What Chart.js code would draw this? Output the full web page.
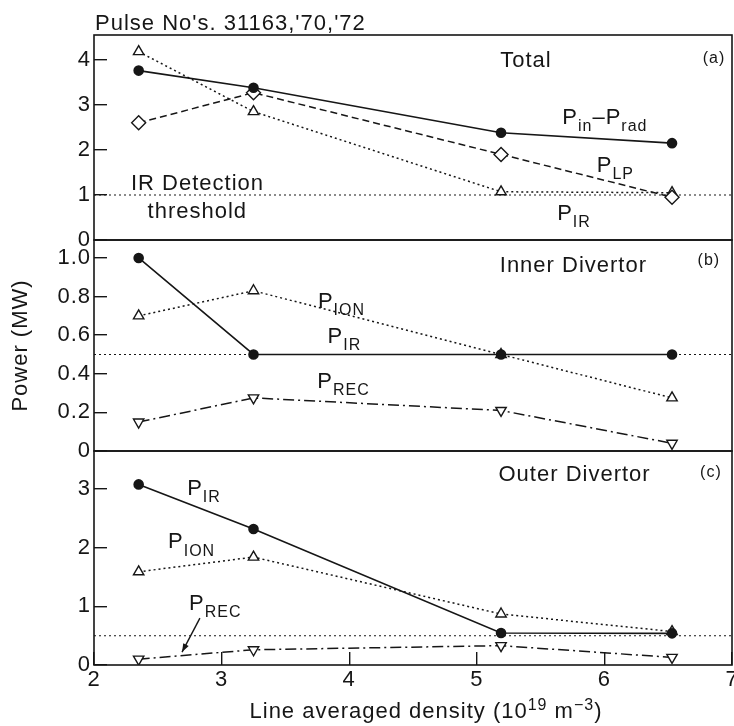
<!DOCTYPE html>
<html>
<head>
<meta charset="utf-8">
<title>Divertor power vs density</title>
<script src="https://cdn.jsdelivr.net/npm/chart.js@4.4.0/dist/chart.umd.min.js"></script>
<style>
  body { margin: 0; background: #fff; }
  #wrap { position: relative; width: 734px; height: 726px; }
  #wrap canvas { position: absolute; left: 0; top: 0; }
</style>
</head>
<body>
<div id="wrap">
  <canvas id="total" width="734" height="726"></canvas>
  <canvas id="inner" width="734" height="726"></canvas>
  <canvas id="outer" width="734" height="726"></canvas>
</div>
<script>
// line averaged density of the pulses (10^19 m^-3)
const density = [2.35, 3.25, 5.19, 6.53];
const xRange = [2, 7];

// (a) total power (MW)
const totalInRad = [3.76, 3.38, 2.38, 2.15];
const totalLP = [2.6, 3.27, 1.9, 0.95];
const totalIR = [4.18, 2.85, 1.07, 1.05];
const irThreshold = 1.0;

// (b) inner divertor (MW)
const innerIR = [1.0, 0.5, 0.5, 0.5];
const innerION = [0.70, 0.83, 0.5, 0.275];
const innerREC = [0.15, 0.275, 0.21, 0.04];
const innerIRLevel = 0.5;

// (c) outer divertor (MW)
const outerIR = [3.08, 2.32, 0.545, 0.54];
const outerION = [1.59, 1.84, 0.87, 0.57];
const outerREC = [0.10, 0.26, 0.33, 0.13];
const outerIRLevel = 0.5;

const FONT = "'Liberation Sans', Arial, Helvetica, sans-serif";
const INK = '#161616';

const pts = ys => density.map((x, i) => ({ x: x, y: ys[i] }));
const hline = v => xRange.map(x => ({ x: x, y: v }));

// line styles
const solid = ys => ({
  data: pts(ys), borderColor: INK, borderWidth: 1.6,
  pointStyle: 'circle', pointRadius: 4.5,
  pointBackgroundColor: INK, pointBorderColor: INK
});
const dotted = ys => ({
  data: pts(ys), borderColor: INK, borderWidth: 1.5, borderDash: [2, 3],
  pointStyle: 'triangle', pointRadius: 6, pointBorderWidth: 1.4,
  pointBackgroundColor: '#fff', pointBorderColor: INK
});
const dashed = ys => ({
  data: pts(ys), borderColor: INK, borderWidth: 1.5, borderDash: [7, 4],
  pointStyle: 'rectRot', pointRadius: 7, pointBorderWidth: 1.4,
  pointBackgroundColor: '#fff', pointBorderColor: INK
});
const dashDot = ys => ({
  data: pts(ys), borderColor: INK, borderWidth: 1.5, borderDash: [11, 4, 2, 4],
  pointStyle: 'triangle', pointRotation: 180, pointRadius: 6, pointBorderWidth: 1.4,
  pointBackgroundColor: '#fff', pointBorderColor: INK
});
const level = v => ({
  data: hline(v), borderColor: INK, borderWidth: 1.1, borderDash: [2, 3], pointRadius: 0
});

// text with sub/superscripts: parts are [text, shift] where shift -1 = sub, 1 = super
function rich(ctx, x, y, parts, size, align) {
  const small = Math.round(size * 0.74);
  const widths = parts.map(([t, s]) => {
    ctx.font = (s ? small : size) + 'px ' + FONT;
    return ctx.measureText(t).width;
  });
  let cx = align === 'center' ? x - widths.reduce((a, b) => a + b, 0) / 2 : x;
  parts.forEach(([t, s], i) => {
    ctx.font = (s ? small : size) + 'px ' + FONT;
    const dy = s < 0 ? size * 0.33 : s > 0 ? -size * 0.38 : 0;
    ctx.fillText(t, cx, y + dy);
    cx += widths[i];
  });
}

// frame, panel notes and free text for one panel
function notes(items, extra) {
  return {
    id: 'notes',
    beforeDraw(chart) {
      chart.ctx.letterSpacing = '1px';
    },
    afterDraw(chart) {
      const { ctx, chartArea: a, scales } = chart;
      ctx.save();
      ctx.strokeStyle = INK;
      ctx.lineWidth = 1.6;
      ctx.strokeRect(a.left, a.top, a.right - a.left, a.bottom - a.top);
      ctx.fillStyle = INK;
      ctx.textBaseline = 'alphabetic';
      ctx.textAlign = 'left';
      items.forEach(n => {
        rich(ctx, scales.x.getPixelForValue(n.x), scales.y.getPixelForValue(n.y),
          n.parts, n.size || 22, n.align);
      });
      if (extra) extra(ctx, a, scales);
      ctx.restore();
    }
  };
}

function panel(id, datasets, yMax, yStep, fmt, pad, items, extra, xAxis, yTitle) {
  return new Chart(document.getElementById(id), {
    type: 'line',
    data: { datasets: datasets },
    options: {
      responsive: false,
      animation: false,
      devicePixelRatio: 1,
      events: [],
      layout: { autoPadding: false, padding: { top: pad[0], bottom: pad[1], left: 0, right: 2 } },
      plugins: { legend: { display: false }, tooltip: { enabled: false } },
      scales: {
        x: {
          type: 'linear', min: xRange[0], max: xRange[1],
          display: xAxis,
          grid: { drawOnChartArea: false, tickLength: -13, color: INK, lineWidth: 1.4 },
          border: { display: false },
          ticks: { stepSize: 1, color: INK, padding: 15, font: { family: FONT, size: 22 } },
          afterFit: s => {
            s.height = xAxis ? 61 : 0;
            s.paddingLeft = 0; s.paddingRight = 0;
          }
        },
        y: {
          min: 0, max: yMax,
          grid: { drawOnChartArea: false, tickLength: -13, color: INK, lineWidth: 1.4 },
          border: { display: false },
          ticks: {
            stepSize: yStep, includeBounds: false, color: INK, padding: 16,
            font: { family: FONT, size: 22 }, callback: fmt
          },
          title: {
            display: !!yTitle, text: yTitle || '', color: INK,
            font: { family: FONT, size: 22 }, padding: { top: 8, bottom: 0 }
          },
          afterFit: s => { s.width = 94; s.paddingTop = 0; s.paddingBottom = 0; }
        }
      }
    },
    plugins: [notes(items, extra)]
  });
}

const intFmt = v => String(v);
const decFmt = v => (v === 0 ? '0' : v.toFixed(1));

// (a) Total
panel('total', [
  solid(totalInRad), dashed(totalLP), dotted(totalIR), level(irThreshold)
], 4.55, 1, intFmt, [35, 486], [
  { x: 5.385, y: 3.84, parts: [['Total', 0]], align: 'center' },
  { x: 6.77, y: 3.93, parts: [['(a)', 0]], size: 16 },
  { x: 5.67, y: 2.58, parts: [['P', 0], ['in', -1], ['–P', 0], ['rad', -1]] },
  { x: 5.94, y: 1.51, parts: [['P', 0], ['LP', -1]] },
  { x: 5.63, y: 0.44, parts: [['P', 0], ['IR', -1]] },
  { x: 2.29, y: 1.11, parts: [['IR Detection', 0]] },
  { x: 2.42, y: 0.49, parts: [['threshold', 0]] }
], (ctx, a) => {
  rich(ctx, a.left + 1, a.top - 5, [["Pulse No's. 31163,'70,'72", 0]], 22);
}, false, null);

// (b) Inner divertor
panel('inner', [
  solid(innerIR), dotted(innerION), dashDot(innerREC), level(innerIRLevel)
], 1.093, 0.2, decFmt, [240, 275], [
  { x: 5.18, y: 0.927, parts: [['Inner Divertor', 0]] },
  { x: 6.73, y: 0.964, parts: [['(b)', 0]], size: 16 },
  { x: 3.755, y: 0.741, parts: [['P', 0], ['ION', -1]] },
  { x: 3.83, y: 0.56, parts: [['P', 0], ['IR', -1]] },
  { x: 3.75, y: 0.326, parts: [['P', 0], ['REC', -1]] }
], null, false, 'Power (MW)');

// (c) Outer divertor
panel('outer', [
  solid(outerIR), dotted(outerION), dashDot(outerREC), level(outerIRLevel)
], 3.65, 1, intFmt, [451, 0], [
  { x: 5.17, y: 3.13, parts: [['Outer Divertor', 0]] },
  { x: 6.75, y: 3.2, parts: [['(c)', 0]], size: 16 },
  { x: 2.73, y: 2.9, parts: [['P', 0], ['IR', -1]] },
  { x: 2.58, y: 1.99, parts: [['P', 0], ['ION', -1]] },
  { x: 2.745, y: 0.94, parts: [['P', 0], ['REC', -1]] }
], (ctx, a, s) => {
  // arrow from the P_REC label to its curve
  const x0 = s.x.getPixelForValue(2.83), y0 = s.y.getPixelForValue(0.80);
  const x1 = s.x.getPixelForValue(2.69), y1 = s.y.getPixelForValue(0.22);
  const ang = Math.atan2(y1 - y0, x1 - x0);
  ctx.lineWidth = 1.4;
  ctx.beginPath(); ctx.moveTo(x0, y0); ctx.lineTo(x1, y1); ctx.stroke();
  ctx.beginPath();
  ctx.moveTo(x1, y1);
  ctx.lineTo(x1 - 9 * Math.cos(ang - 0.35), y1 - 9 * Math.sin(ang - 0.35));
  ctx.lineTo(x1 - 9 * Math.cos(ang + 0.35), y1 - 9 * Math.sin(ang + 0.35));
  ctx.closePath(); ctx.fill();
  // axis title
  rich(ctx, (a.left + a.right) / 2 + 13, a.bottom + 53,
    [['Line averaged density (10', 0], ['19', 1], [' m', 0], ['−3', 1], [')', 0]], 22, 'center');
}, true, null);
</script>
</body>
</html>
